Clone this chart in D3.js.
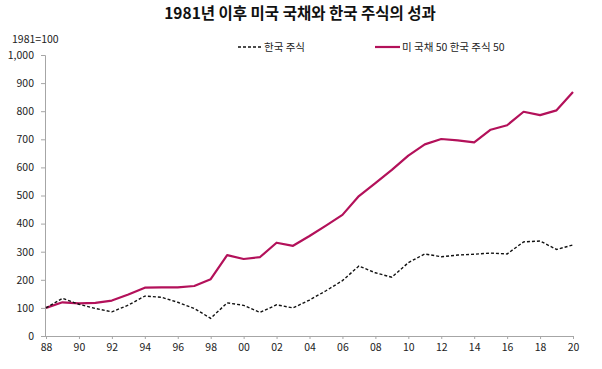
<!DOCTYPE html>
<html><head><meta charset="utf-8">
<script src="https://cdn.jsdelivr.net/npm/d3@7"></script>
<style>
body{margin:0;background:#fff;}
text{font-family:"Noto Sans CJK KR","Noto Sans",sans-serif;}
</style></head>
<body><svg id="c" width="602" height="369"></svg>
<script>
const years = d3.range(1988, 2021);
const korStock = [100,134,113,98,86,110,142,138,120,98,63,118,109,84,111,100,128,161,197,249,225,209,261,292,282,288,291,295,292,335,338,308,324];
const mix = [100,120,116,118,126,148,172,173,173,178,202,288,274,281,332,321,356,393,431,498,544,591,642,682,701,696,689,734,750,798,786,803,868];
const yTicks = d3.range(0, 1001, 100);
const xTicks = d3.range(1988, 2021, 2);
const seriesNames = ["한국 주식", "미 국채 50 한국 주식 50"];
const title = "1981년 이후 미국 국채와 한국 주식의 성과";
const unitLabel = "1981=100";

const svg = d3.select("#c");
const x = d3.scaleLinear().domain([1988, 2020]).range([46, 573]);
const y = d3.scaleLinear().domain([0, 1000]).range([336, 55]);
const crimson = "#B3115A";
const axisCol = "#A6A6A6";

svg.append("text").attr("x", 300).attr("y", 19).attr("text-anchor", "middle")
  .attr("font-size", 15.5).attr("font-weight", "bold").attr("fill", "#111").text(title);
svg.append("text").attr("x", 12).attr("y", 43).attr("font-size", 10.5).attr("fill", "#222").text(unitLabel);

// y axis
const ya = svg.append("g").attr("transform", "translate(45,0)")
  .call(d3.axisLeft(y).tickValues(yTicks).tickSize(4).tickPadding(7).tickFormat(d3.format(",")));
ya.select(".domain").attr("stroke", axisCol);
ya.selectAll(".tick line").attr("stroke", axisCol);
ya.selectAll("text").attr("font-size", 10.5).attr("fill", "#222").style("font-family", '"Noto Sans CJK KR",sans-serif');

// x axis
const xa = svg.append("g").attr("transform", "translate(0,336)")
  .call(d3.axisBottom(x).tickValues(xTicks).tickSize(3).tickPadding(5)
    .tickFormat(d => String(d % 100).padStart(2, "0")));
xa.select(".domain").attr("stroke", axisCol).attr("d", "M45,0.5H573");
xa.selectAll(".tick line").attr("stroke", axisCol);
xa.selectAll("text").attr("font-size", 10.5).attr("fill", "#222").style("font-family", '"Noto Sans CJK KR",sans-serif');

const line = d3.line().x((d, i) => x(years[i])).y(d => y(d));
svg.append("path").datum(mix).attr("d", line).attr("fill", "none")
  .attr("stroke", crimson).attr("stroke-width", 2.2).attr("stroke-linejoin", "round");
svg.append("path").datum(korStock).attr("d", line).attr("fill", "none")
  .attr("stroke", "#111").attr("stroke-width", 1.4).attr("stroke-dasharray", "3,2");

// legend
svg.append("line").attr("x1", 238).attr("x2", 262).attr("y1", 47).attr("y2", 47)
  .attr("stroke", "#111").attr("stroke-width", 1.4).attr("stroke-dasharray", "3,2");
svg.append("text").attr("x", 264).attr("y", 51).attr("font-size", 10.5).attr("fill", "#222").text(seriesNames[0]);
svg.append("line").attr("x1", 375).attr("x2", 400).attr("y1", 47).attr("y2", 47)
  .attr("stroke", crimson).attr("stroke-width", 2.2);
svg.append("text").attr("x", 402).attr("y", 51).attr("font-size", 10.5).attr("fill", "#222").text(seriesNames[1]);
</script></body></html>
